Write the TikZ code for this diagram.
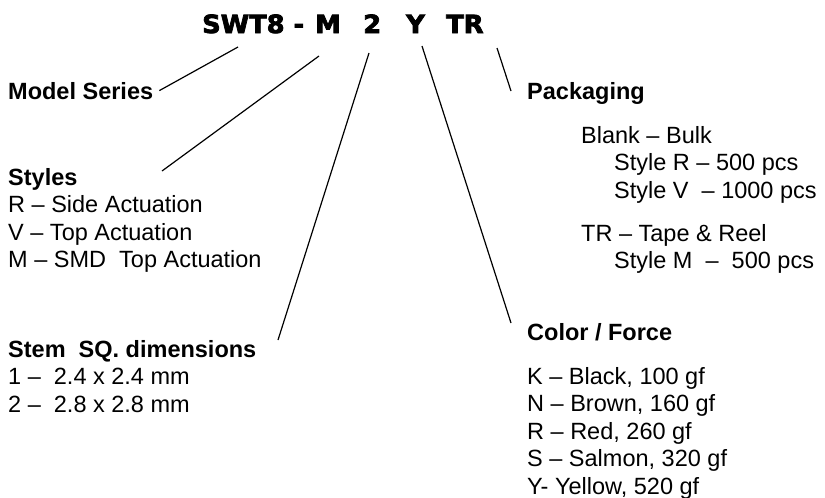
\documentclass[tikz,border=0pt]{standalone}
\usepackage{fontspec}
\setmainfont{Liberation Sans}
\newfontfamily\codefont[FakeStretch=1.03,FakeBold=3]{DejaVu Sans Bold}
\usetikzlibrary{calc, positioning}

\begin{document}
\begin{tikzpicture}[x=1pt,y=-1pt,node distance=27.5pt,
    code/.style={font=\codefont\fontsize{25}{30}\selectfont, inner sep=0pt, anchor=base west},
    head/.style={font=\bfseries\fontsize{23.5}{27.5}\selectfont, inner sep=0pt, anchor=base west},
    item/.style={font=\fontsize{23.5}{27.5}\selectfont, inner sep=0pt, anchor=base west},
    lead/.style={line width=1.2pt}]
    \useasboundingbox (0,0) rectangle (825,498);
    % part number
    \node[code] (swt) at (202,33) {SWT8 -};
    \node[code] (m)   at (315,33) {M};
    \node[code] (two) at (363,33) {2};
    \node[code] (y)   at (406,33) {Y};
    \node[code] (tr)  at (446,33) {TR};
    % left column
    \node[head] (ms)   at (8,99)  {Model Series};
    \node[head] (sty)  at (8,185) {Styles};
    \node[item] (styR) [below=of sty.base west, anchor=base west] {R – Side Actuation};
    \node[item] (styV) [below=of styR.base west, anchor=base west] {V – Top Actuation};
    \node[item] (styM) [below=of styV.base west, anchor=base west] {M – SMD~ Top Actuation};
    \node[head] (stem) at (8,357) {Stem~ SQ. dimensions};
    \node[item] (sq1)  [below=of stem.base west, anchor=base west] {1 –~ 2.4 x 2.4 mm};
    \node[item] (sq2)  [below=of sq1.base west, anchor=base west] {2 –~ 2.8 x 2.8 mm};
    % right column
    \node[head] (pk)   at (527,99) {Packaging};
    \node[item] (bulk) [below right=44pt and 54pt of pk.base west, anchor=base west] {Blank – Bulk};
    \node[item] (bR)   [below right=27.5pt and 33pt of bulk.base west, anchor=base west] {Style R – 500 pcs};
    \node[item] (bV)   [below=of bR.base west, anchor=base west] {Style V~ – 1000 pcs};
    \node[item] (reel) [below left=43pt and 33pt of bV.base west, anchor=base west] {TR – Tape \& Reel};
    \node[item] (rM)   [below right=27.5pt and 33pt of reel.base west, anchor=base west] {Style M~ –~ 500 pcs};
    \node[head] (cf)   at (527,340) {Color / Force};
    \node[item] (fK)   [below=44pt of cf.base west, anchor=base west] {K – Black, 100 gf};
    \node[item] (fN)   [below=of fK.base west, anchor=base west] {N – Brown, 160 gf};
    \node[item] (fR)   [below=of fN.base west, anchor=base west] {R – Red, 260 gf};
    \node[item] (fS)   [below=of fR.base west, anchor=base west] {S – Salmon, 320 gf};
    \node[item] (fY)   [below=of fS.base west, anchor=base west] {Y- Yellow, 520 gf};
    % free ends of the leaders
    \coordinate (styTip)  at ([shift={(154,-14)}]sty.base west);
    \coordinate (stemTip) at ([shift={(270,-17)}]stem.base west);
    \coordinate (cfTip)   at ([shift={(-16,-17)}]cf.base west);
    \coordinate (pkTip)   at ([shift={(-16,-8)}]pk.base west);
    % leaders
    \draw[lead] ([shift={(36,14)}]swt.base west) -- ([xshift=6pt]ms.east);
    \draw[lead] ([shift={(4,23)}]m.base west) -- (styTip);
    \draw[lead] ([shift={(6,20)}]two.base west) -- (stemTip);
    \draw[lead] ([shift={(16,13)}]y.base west) -- (cfTip);
    \draw[lead] ([shift={(51,15)}]tr.base west) -- (pkTip);
\end{tikzpicture}
\end{document}
